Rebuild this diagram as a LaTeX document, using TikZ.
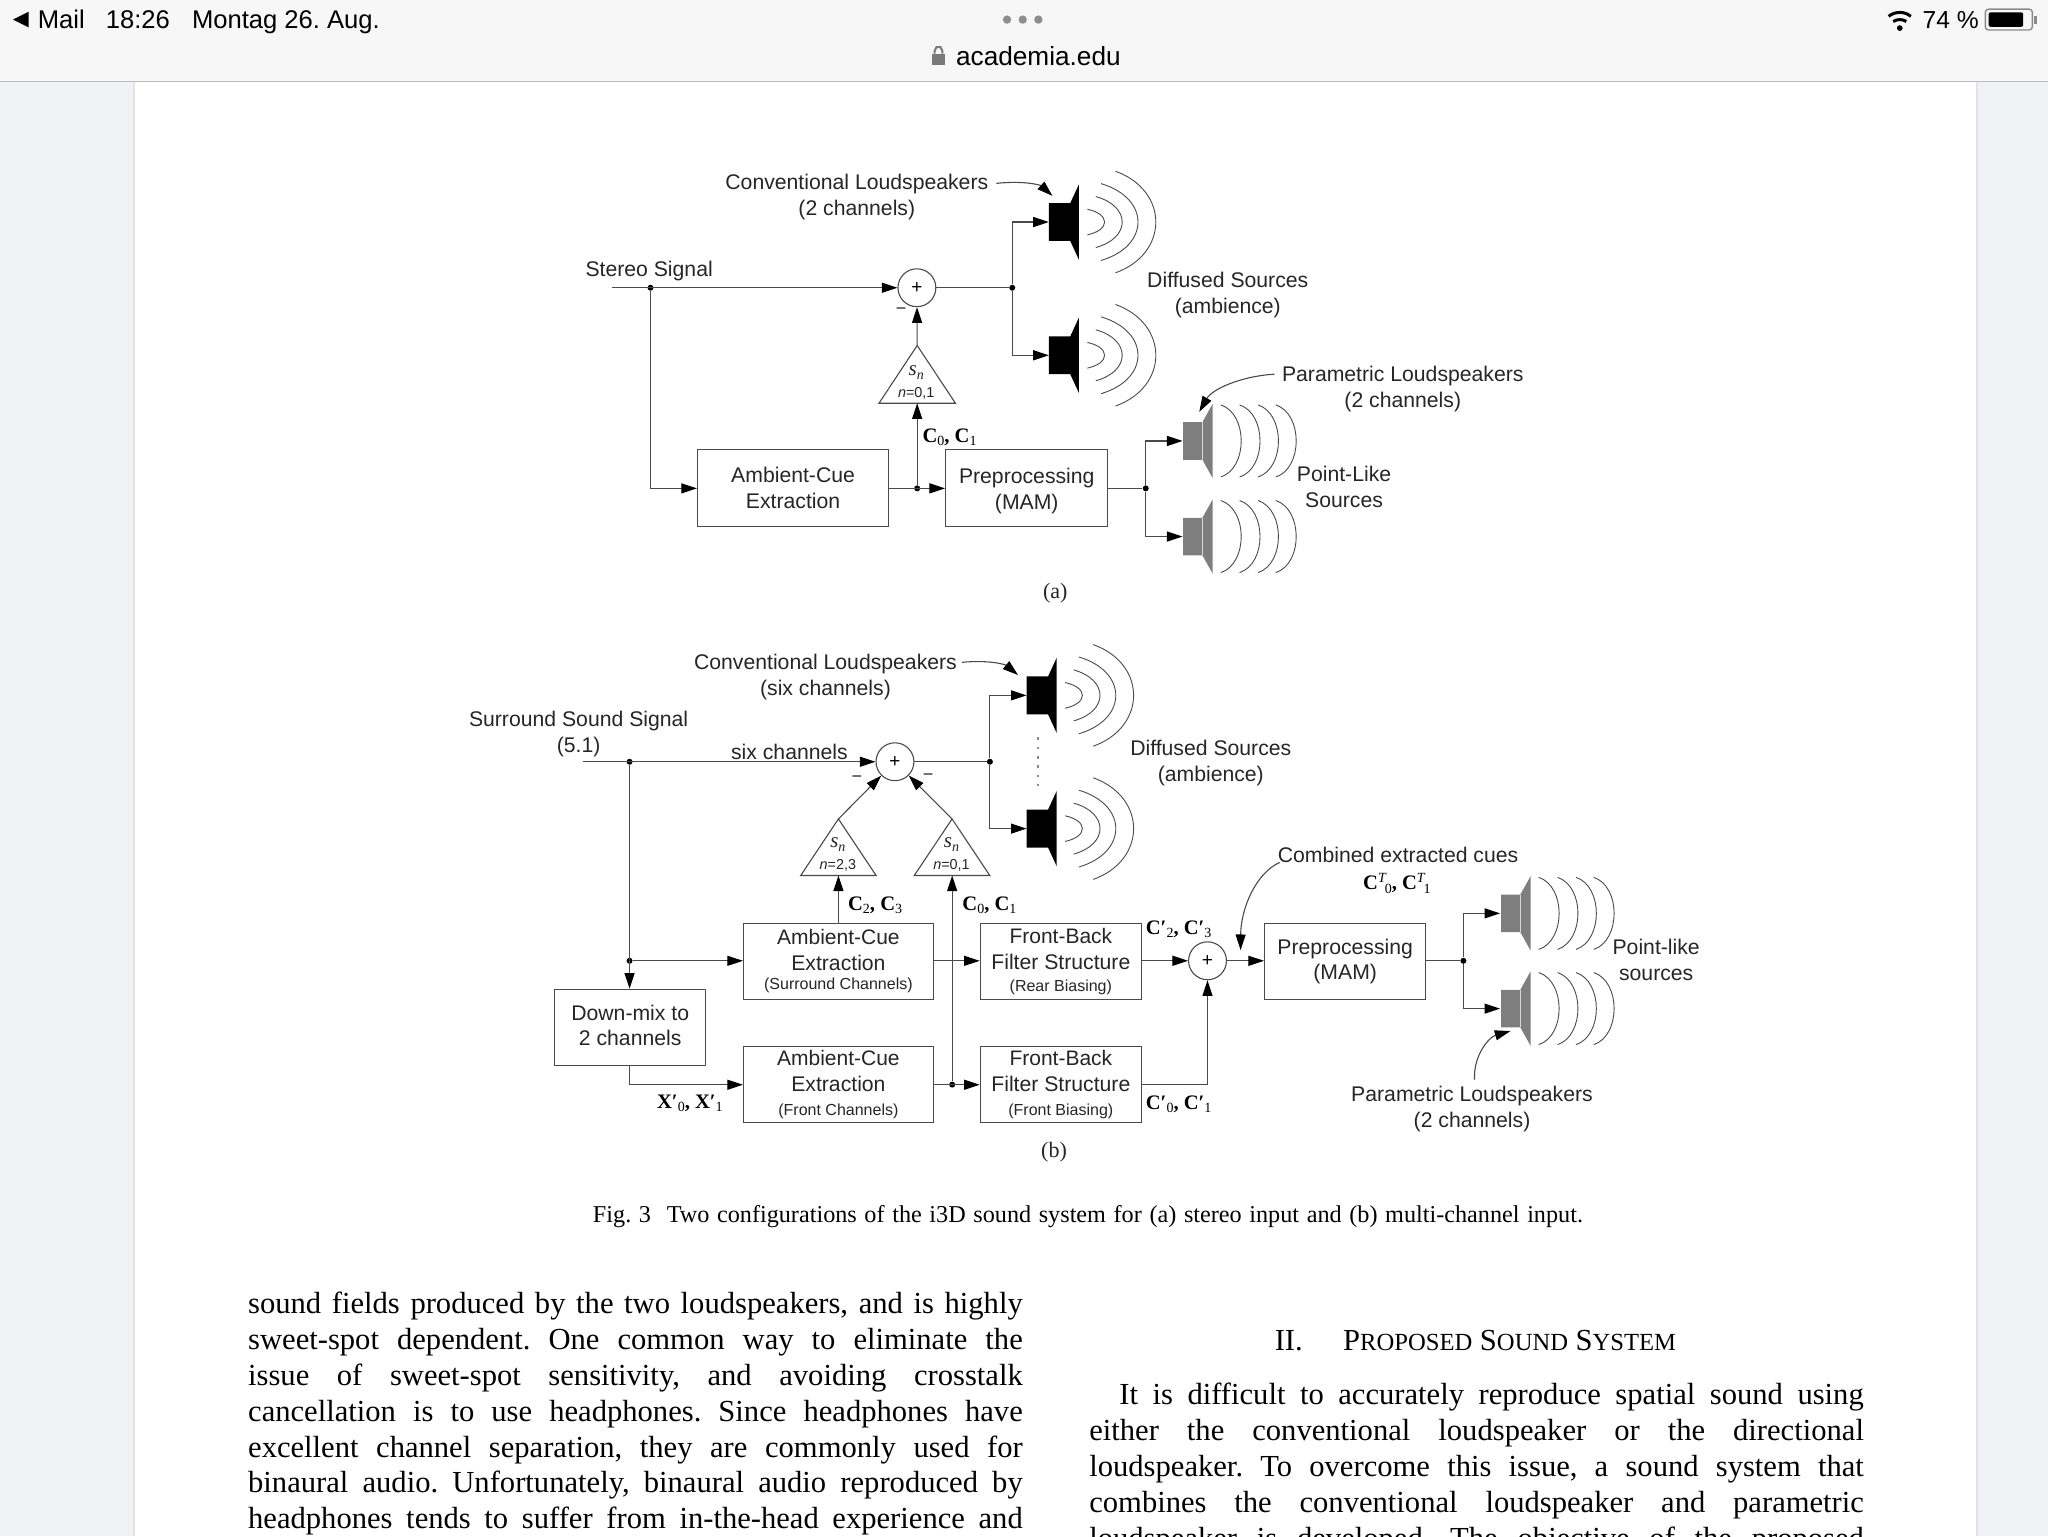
\documentclass[tikz,border=0pt]{standalone}
\usepackage{fontspec}
\setmainfont{Liberation Sans}
\newfontfamily\srf{Liberation Serif}
\usetikzlibrary{arrows.meta}
\frenchspacing
\def\uu{0.65306pt}
\definecolor{ink}{HTML}{262626}
\definecolor{wire}{HTML}{4A4A4A}
\definecolor{spkgrey}{HTML}{7E7E7E}
\definecolor{side}{HTML}{F1F2F6}
\definecolor{sideedge}{HTML}{E3E3E6}
\definecolor{barbg}{HTML}{F7F7F7}
\definecolor{barline}{HTML}{BDBDBD}
\definecolor{uidots}{HTML}{8E8E8E}
\definecolor{lockc}{HTML}{7A7A7A}
\definecolor{battc}{HTML}{8A8A8A}
\newcommand{\lo}[1]{\raisebox{-0.35ex}{\mdseries\fontsize{7}{7}\selectfont #1}}
\newcommand{\hi}[1]{\raisebox{0.75ex}{\mdseries\fontsize{7}{7}\selectfont\itshape #1}}
\newcommand{\sml}[1]{{\fontsize{8}{9}\selectfont #1}}
\newcommand{\jline}[2]{\makebox[#1pt][s]{#2}}
\newcommand{\blk}[4]{\fontsize{10.5}{12.7}\selectfont #1\\#2\\[#4]\sml{#3}}
\newcommand{\trilab}[2]{{\srf\itshape\fontsize{10.5}{11}\selectfont s\lo{\itshape n}}\\[0.5pt]\itshape n\upshape =#2}
\tikzset{
  wr/.style={draw=wire,line width=0.55pt},
  sig/.style={wr,-{Triangle[length=7.8pt,width=5pt,color=black]}},
  lbl/.style={inner sep=0,outer sep=0,align=center,text=ink,font=\fontsize{10.6}{13}\selectfont},
  statl/.style={inner sep=0,outer sep=0,text=black,font=\fontsize{12.8}{14}\selectfont},
  cue/.style={inner sep=0,outer sep=0,text=black,font=\srf\fontsize{10.3}{12}\selectfont\bfseries},
  bx/.style={draw=wire,line width=0.55pt,fill=white,inner sep=0,align=center,text=ink,font=\fontsize{10.6}{13}\selectfont},
  sumn/.style={circle,draw=wire,line width=0.55pt,fill=white,inner sep=0,minimum size=29*\uu,font=\fontsize{9.5}{9.5}\selectfont,text=black},
  dotn/.style={circle,fill=black,inner sep=0,minimum size=4.6*\uu},
  tri/.style={draw=wire,line width=0.55pt,fill=white},
  tril/.style={inner sep=0,align=center,text=ink,font=\fontsize{7.2}{10.5}\selectfont},
  body/.style={inner sep=0,outer sep=0,anchor=base west,text=black,font=\srf\fontsize{15.3}{15}\selectfont},
  arcl/.style={draw=wire,line width=0.45pt},
  blackspk/.pic={
    \fill[black] (0,-14.5)--(16.4,-14.5)--(23,-28.8)--(23,28.8)--(16.4,14.5)--(0,14.5)--cycle;
    \foreach \a/\d/\h in {29.5/13.5/9.8,36/20.7/19.5,40/29/29.4,51/31.7/38.9}
      \draw[arcl] (\a,-\h) .. controls ({\a+\d*1.3},{-\h*.62}) and ({\a+\d*1.3},{\h*.62}) .. (\a,\h);
  },
  greyspk/.pic={
    \fill[spkgrey] (0,-14.4)--(14.8,-14.4)--(22.6,-28.4)--(22.6,28.4)--(14.8,14.4)--(0,14.4)--cycle;
    \draw[white!70!spkgrey,line width=0.3pt] (14.8,-14.4)--(14.8,14.4);
    \foreach \a in {28.9,43.3,57.4,71}
      \draw[arcl] (\a,-27.6) .. controls ({\a+20.8},-20.7) and ({\a+20.8},20.7) .. (\a,27.6);
  }
}
\begin{document}
\begin{tikzpicture}[x=\uu,y=-\uu]
\useasboundingbox (0,0) rectangle (1568,1176);
% ---- page ----
\fill[white] (0,0) rectangle (1568,1176);
\fill[side] (0,63) rectangle (102,1176);
\fill[side] (1514,63) rectangle (1568,1176);
\draw[sideedge,line width=0.8pt] (102.5,63)--(102.5,1176) (1513.5,63)--(1513.5,1176);
\fill[barbg] (0,0) rectangle (1568,62);
\draw[barline,line width=0.8pt] (0,62.5)--(1568,62.5);
% ---- status bar ----
\fill[black] (10,15)--(22,9)--(22,21)--cycle;
\node[statl,anchor=base west] (mail) at (29,22) {Mail};
\node[statl,anchor=base west] (clock) at (81,22) {18:26};
\node[statl,anchor=base west] (date) at (147,22) {Montag 26. Aug.};
\node[statl,anchor=base east,font=\fontsize{12.3}{14}\selectfont] (batt) at (1515,22) {74 \%};
\fill[uidots] (771,15) circle[radius=3.2] (783,15) circle[radius=3.2] (795,15) circle[radius=3.2];
\node[statl,anchor=base west,font=\fontsize{13.1}{15}\selectfont] (url) at (732,50) {academia.edu};
\fill[lockc] (713.5,41) rectangle (723.5,50);
\draw[lockc,line width=1pt] (715.5,41) -- (715.5,39) -- (717,36) -- (720,36) -- (721.5,39) -- (721.5,41);
\fill[black] (1454.5,21.5) circle[radius=2.2];
\draw[black,line width=1.5pt] (1449.5,16.5) .. controls (1452,14.5) and (1457,14.5) .. (1459.5,16.5);
\draw[black,line width=1.5pt] (1446,12.5) .. controls (1451,8.5) and (1458,8.5) .. (1463,12.5);
\draw[battc,line width=0.7pt,rounded corners=1.6pt] (1520,7) rectangle (1556,23);
\fill[black,rounded corners=1pt] (1522.5,9.5) rectangle (1549,20.5);
\fill[battc] (1557.5,12) rectangle (1559.5,18);
% ---- figure (a) ----
\node[lbl] (la1) at (656,151) {Conventional Loudspeakers\\(2 channels)};
\node[lbl] (la2) at (497,207.5) {Stereo Signal};
\node[lbl] (la3) at (940,226) {Diffused Sources\\(ambience)};
\node[lbl] (la4) at (1074,298) {Parametric Loudspeakers\\(2 channels)};
\node[lbl] (la5) at (1029,373) {Point-Like\\Sources};
\node[lbl,font=\srf\fontsize{11}{13}\selectfont] (capa) at (808,454) {(a)};
\pic at (803,170) {blackspk};
\pic at (803,272) {blackspk};
\pic at (905.8,337.6) {greyspk};
\pic at (905.8,410.8) {greyspk};
\coordinate (ain) at (468.6,220.3);
\coordinate (asp1) at (803,170);
\coordinate (asp2) at (803,272);
\coordinate (asp3) at (905.4,337.6);
\coordinate (asp4) at (905.4,410.8);
\node[sumn] (as) at (702,220.3) {+};
\node[dotn] (aj1) at (498,220.3) {};
\node[dotn] (aj2) at (775,220.3) {};
\node[bx,minimum width=146.4*\uu,minimum height=59*\uu] (aace) at (607.2,373.9) {Ambient-Cue\\Extraction};
\node[bx,minimum width=124.3*\uu,minimum height=59*\uu] (apre) at (786.1,373.9) {Preprocessing\rule{0pt}{10.8pt}\\(MAM)};
\node[dotn] (aj3) at (702.2,373.9) {};
\node[dotn] (aj4) at (877.2,373.9) {};
\coordinate (ata) at (702.2,264.5);
\coordinate (atb) at (702.2,308.7);
\draw[tri] (ata)--(731.5,308.7)--(673,308.7)--cycle;
\node[tril] (atl) at (701.5,293) {\trilab{}{0,1}};
\draw[sig] (ain) -- (as);
\draw[wr] (as) -- (aj2);
\draw[sig] (aj2) |- (asp1);
\draw[sig] (aj2) |- (asp2);
\draw[sig] (aj1) |- (aace);
\draw[sig] (ata) -- (as);
\draw[sig] (aace) -- (apre);
\draw[sig] (aj3) -- (atb);
\draw[wr] (apre) -- (aj4);
\draw[sig] (aj4) |- (asp3);
\draw[sig] (aj4) |- (asp4);
\coordinate (ap1s) at (762.8,140.4);
\coordinate (ap1e) at (805.8,150);
\coordinate (ap2s) at (975.7,286.5);
\coordinate (ap2e) at (918.2,315.3);
\draw[sig] (ap1s) .. controls (785,138) and (797,142) .. (ap1e);
\draw[sig] (ap2s) .. controls (950,288) and (928,298) .. (ap2e);
\node[lbl,font=\fontsize{9}{9}\selectfont] (am) at (690,238.5) {−};
\node[cue,anchor=center] (ac) at (727,335) {C\lo{0}, C\lo{1}};
% ---- figure (b) ----
\node[lbl] (lb1) at (632,518.5) {Conventional Loudspeakers\\(six channels)};
\node[lbl] (lb2) at (443,562) {Surround Sound Signal\\(5.1)};
\node[lbl] (lb3) at (604.4,576) {six channels};
\node[lbl] (lb4) at (927,584) {Diffused Sources\\(ambience)};
\node[lbl] (lb5) at (1070.4,654.6) {Combined extracted cues};
\node[cue] (lb6) at (1069.5,676.4) {C\hi{T}\kern-0.05em\lo{0}, C\hi{T}\kern-0.05em\lo{1}};
\node[lbl,align=center] (lb7) at (1268,735) {Point-like\\sources};
\node[lbl] (lb8) at (1127,849) {Parametric Loudspeakers\\(2 channels)};
\node[lbl,font=\srf\fontsize{11}{13}\selectfont] (capb) at (807,882) {(b)};
\pic at (786,532.4) {blackspk};
\pic at (786,634.4) {blackspk};
\pic at (1149.2,699.3) {greyspk};
\pic at (1149.2,772.2) {greyspk};
\draw[battc,line width=0.9pt,dash pattern=on 1.3pt off 3.4pt] (794.6,564.4) -- (794.6,602);
\coordinate (bin) at (446,583.2);
\coordinate (bsp1) at (786,532.4);
\coordinate (bsp2) at (786,634.4);
\coordinate (bsp3) at (1148.5,699.3);
\coordinate (bsp4) at (1148.5,772.2);
\node[sumn] (bs) at (685.2,583.2) {+};
\node[sumn] (bt) at (924.5,735.6) {+};
\node[dotn] (bj1) at (482,583.2) {};
\node[dotn] (bj2) at (757.9,583.2) {};
\node[dotn] (bj3) at (482,735.6) {};
\node[dotn] (bj4) at (729,830.4) {};
\node[dotn] (bj5) at (1120.4,735.6) {};
\node[bx,minimum width=115.6*\uu,minimum height=58.6*\uu] (bdm) at (482.5,786.7) {Down-mix to\\[-0.4pt]2 channels\vphantom{(g}};
\node[bx,minimum width=145.3*\uu,minimum height=58.1*\uu] (bac1) at (641.9,735.9) {\blk{Ambient-Cue}{Extraction}{(Surround Channels)}{-3.6pt}};
\node[bx,minimum width=145.3*\uu,minimum height=58.1*\uu] (bac2) at (641.9,830.5) {\blk{Ambient-Cue}{Extraction}{(Front Channels)}{-1pt}};
\node[bx,minimum width=123.4*\uu,minimum height=58.1*\uu] (bfb1) at (812.2,735.9) {\blk{Front-Back}{Filter Structure}{(Rear Biasing)}{-2pt}};
\node[bx,minimum width=123.4*\uu,minimum height=58.1*\uu] (bfb2) at (812.2,830.5) {\blk{Front-Back}{Filter Structure}{(Front Biasing)}{-1pt}};
\node[bx,minimum width=123.5*\uu,minimum height=58.3*\uu] (bpre) at (1029.9,735.9) {Preprocessing\\[-0.6pt](MAM)};
\coordinate (bt1a) at (641.9,627);
\coordinate (bt1b) at (641.9,670.3);
\coordinate (bt2a) at (728.9,627);
\coordinate (bt2b) at (728.9,670.3);
\draw[tri] (bt1a)--(670.8,670.3)--(613,670.3)--cycle;
\draw[tri] (bt2a)--(757.8,670.3)--(700,670.3)--cycle;
\node[tril] (bt1l) at (641.5,654.5) {\trilab{}{2,3}};
\node[tril] (bt2l) at (728.5,654.5) {\trilab{}{0,1}};
\draw[sig] (bin) -- (bs);
\draw[wr] (bs) -- (bj2);
\draw[sig] (bj2) |- (bsp1);
\draw[sig] (bj2) |- (bsp2);
\draw[sig] (bj1) -- (bj1 |- bdm.north);
\draw[sig] (bj3) -- (bj3 -| bac1.west);
\draw[sig] (bt1a) -- (bs);
\draw[sig] (bt2a) -- (bs);
\draw[sig] (bac1.north -| bt1b) -- (bt1b);
\draw[sig] (bj4) -- (bt2b -| bj4);
\draw[sig] (bac1.east |- bj3) -- (bfb1.west |- bj3);
\draw[sig] (bfb1.east |- bt) -- (bt);
\draw[sig] (bt) -- (bpre.west |- bt);
\coordinate (bdmb) at (bdm.south -| bj1);
\draw[sig] (bdmb) |- (bac2);
\draw[sig] (bac2) -- (bfb2);
\draw[sig] (bfb2) -| (bt);
\draw[wr] (bpre.east |- bt) -- (bj5);
\draw[sig] (bj5) |- (bsp3);
\draw[sig] (bj5) |- (bsp4);
\coordinate (bp1s) at (736.4,507.1);
\coordinate (bp1e) at (779.4,516.8);
\coordinate (bp2s) at (979.8,660.3);
\coordinate (bp2e) at (949.8,727.4);
\coordinate (bp3s) at (1128.9,826.5);
\coordinate (bp3e) at (1156.4,789.4);
\draw[sig] (bp1s) .. controls (758,505) and (770,509) .. (bp1e);
\draw[sig] (bp2s) .. controls (962,668) and (950,695) .. (bp2e);
\draw[sig] (bp3s) .. controls (1128,808) and (1140,794) .. (bp3e);
\node[lbl,font=\fontsize{9}{9}\selectfont] (bm1) at (656,596.6) {−};
\node[lbl,font=\fontsize{9}{9}\selectfont] (bm2) at (710.6,595.3) {−};
\node[cue] (bc1) at (670,692.9) {C\lo{2}, C\lo{3}};
\node[cue] (bc2) at (757.5,692.9) {C\lo{0}, C\lo{1}};
\node[cue] (bc3) at (902.4,711.5) {C′\lo{2}, C′\lo{3}};
\node[cue] (bc4) at (902.4,845.3) {C′\lo{0}, C′\lo{1}};
\node[cue] (bc5) at (528.2,844.5) {X′\lo{0}, X′\lo{1}};
% ---- caption and page text ----
\node[body,font=\srf\fontsize{12.1}{13}\selectfont] (cap) at (454,936) {\jline{495}{Fig. 3\hspace{0.65em}Two configurations of the i3D sound system for (a) stereo input and (b) multi-channel input.}};
\node[body] (l1) at (190,1005.8) {\jline{387.3}{sound fields produced by the two loudspeakers, and is highly}};
\node[body] (l2) at (190,1033.3) {\jline{387.3}{sweet-spot dependent. One common way to eliminate the}};
\node[body] (l3) at (190,1060.8) {\jline{387.3}{issue of sweet-spot sensitivity, and avoiding crosstalk}};
\node[body] (l4) at (190,1088.3) {\jline{387.3}{cancellation is to use headphones. Since headphones have}};
\node[body] (l5) at (190,1115.8) {\jline{387.3}{excellent channel separation, they are commonly used for}};
\node[body] (l6) at (190,1142.8) {\jline{387.3}{binaural audio. Unfortunately, binaural audio reproduced by}};
\node[body] (l7) at (190,1170.3) {\jline{387.3}{headphones tends to suffer from in-the-head experience and}};
\node[body] (h1) at (976,1034) {II.\hspace{1.32em}P{\fontsize{12.3}{12}\selectfont ROPOSED} S{\fontsize{12.3}{12}\selectfont OUND} S{\fontsize{12.3}{12}\selectfont YSTEM}};
\node[body] (r1) at (857,1075.5) {\jline{372.2}{It is difficult to accurately reproduce spatial sound using}};
\node[body] (r2) at (834,1103) {\jline{387.3}{either the conventional loudspeaker or the directional}};
\node[body] (r3) at (834,1130.5) {\jline{387.3}{loudspeaker. To overcome this issue, a sound system that}};
\node[body] (r4) at (834,1158) {\jline{387.3}{combines the conventional loudspeaker and parametric}};
\node[body] (r5) at (834,1185.5) {\jline{387.3}{loudspeaker is developed. The objective of the proposed}};
\end{tikzpicture}
\end{document}
